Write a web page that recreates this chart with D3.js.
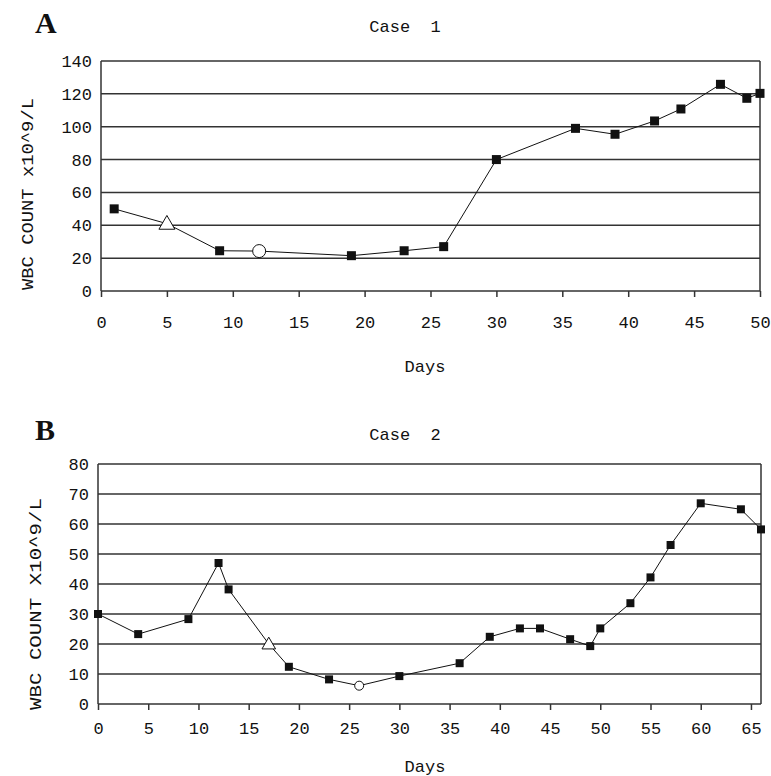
<html lang="en">
<head>
  <meta charset="UTF-8"/>
  <title>WBC count, case 1 and case 2</title>
  <script src="https://d3js.org/d3.v7.min.js"></script>
  <style>
body { margin: 0; background: #fff; }
svg { width: 771px; height: 776px; display: block; }
text { font-family: 'Liberation Mono', 'DejaVu Sans Mono', monospace; fill: #111; }
text.panel { font-family: 'Liberation Serif', serif; font-weight: bold; font-size: 30px; }
text.title { font-size: 17px; }
.tick text { font-size: 17px; }
text.label { font-size: 17px; }
.grid line { stroke: #333; stroke-width: 1.5; }
.series { fill: none; stroke: #111; stroke-width: 1; }
  </style>
</head>
<body>
  <svg></svg>
  <script>
// Case 1
const daysA = [1, 5, 9, 12, 19, 23, 26, 30, 36, 39, 42, 44, 47, 49, 50];
const wbcA = [50, 41, 24.5, 24.3, 21.5, 24.5, 27, 80, 99, 95.4, 103.5, 110.8, 125.8, 117.3, 120.3];
const markA = ['sq', 'tri', 'sq', 'circ', 'sq', 'sq', 'sq', 'sq', 'sq', 'sq', 'sq', 'sq', 'sq', 'sq', 'sq'];
const xTicksA = [0, 5, 10, 15, 20, 25, 30, 35, 40, 45, 50];
const yTicksA = [0, 20, 40, 60, 80, 100, 120, 140];

// Case 2
const daysB = [0, 4, 9, 12, 13, 17, 19, 23, 26, 30, 36, 39, 42, 44, 47, 49, 50, 53, 55, 57, 60, 64, 66];
const wbcB = [30, 23.3, 28.3, 47, 38.2, 20, 12.4, 8.2, 6.1, 9.3, 13.6, 22.4, 25.2, 25.2, 21.6, 19.3, 25.2, 33.6, 42.2, 53, 66.9, 64.9, 58.2];
const markB = ['sq', 'sq', 'sq', 'sq', 'sq', 'tri', 'sq', 'sq', 'circ', 'sq', 'sq', 'sq', 'sq', 'sq', 'sq', 'sq', 'sq', 'sq', 'sq', 'sq', 'sq', 'sq', 'sq'];
const xTicksB = [0, 5, 10, 15, 20, 25, 30, 35, 40, 45, 50, 55, 60, 65];
const yTicksB = [0, 10, 20, 30, 40, 50, 60, 70, 80];

const svg = d3.select('svg');

function panel(o) {
  const x = d3.scaleLinear().domain(o.xDomain).range([o.left, o.right]);
  const y = d3.scaleLinear().domain(o.yDomain).range([o.bottom, o.top]);
  const g = svg.append('g');

  // horizontal grid lines
  g.append('g').attr('class', 'grid')
    .selectAll('line').data(o.yTicks).join('line')
    .attr('x1', o.left).attr('x2', o.right)
    .attr('y1', d => y(d)).attr('y2', d => y(d));

  // left and right edges
  g.append('g').attr('class', 'grid')
    .selectAll('line').data([o.left, o.right]).join('line')
    .attr('x1', d => d).attr('x2', d => d)
    .attr('y1', o.top).attr('y2', o.bottom);

  // x axis
  const xa = g.append('g')
    .attr('transform', `translate(0, ${o.bottom})`)
    .call(d3.axisBottom(x).tickValues(o.xTicks).tickSize(6).tickPadding(o.xPad).tickSizeOuter(0));
  xa.select('.domain').remove();
  xa.selectAll('.tick line').attr('stroke', '#333').attr('stroke-width', 1.5);

  // y axis labels
  const ya = g.append('g')
    .attr('transform', `translate(${o.left}, 0)`)
    .call(d3.axisLeft(y).tickValues(o.yTicks).tickSize(0).tickPadding(9));
  ya.select('.domain').remove();

  const line = d3.line().x(d => x(d[0])).y(d => y(d[1]));
  const pts = o.days.map((d, i) => [d, o.wbc[i], o.marks[i]]);
  g.append('path').attr('class', 'series').attr('d', line(pts));

  const s = o.sq;
  g.selectAll('rect.m').data(pts.filter(p => p[2] === 'sq')).join('rect')
    .attr('x', d => x(d[0]) - s / 2).attr('y', d => y(d[1]) - s / 2)
    .attr('width', s).attr('height', s).attr('fill', '#111');
  g.selectAll('circle.m').data(pts.filter(p => p[2] === 'circ')).join('circle')
    .attr('cx', d => x(d[0])).attr('cy', d => y(d[1])).attr('r', o.cr)
    .attr('fill', '#fff').attr('stroke', '#111').attr('stroke-width', 1);
  const tri = d3.symbol().type(d3.symbolTriangle).size(o.tri);
  g.selectAll('path.tri').data(pts.filter(p => p[2] === 'tri')).join('path')
    .attr('transform', d => `translate(${x(d[0])}, ${y(d[1]) + 1})`)
    .attr('d', tri).attr('fill', '#fff').attr('stroke', '#111').attr('stroke-width', 1);

  svg.append('text').attr('class', 'panel').attr('x', o.letterX).attr('y', o.letterY).text(o.letter);
  svg.append('text').attr('class', 'title').attr('x', 405).attr('y', o.titleY)
    .attr('text-anchor', 'middle').attr('xml:space', 'preserve').text(o.title);
  svg.append('text').attr('class', 'label').attr('x', 425).attr('y', o.daysY)
    .attr('text-anchor', 'middle').text('Days');
  svg.append('text').attr('class', 'label')
    .attr('transform', `translate(${o.ylX}, ${o.ylY}) rotate(-90)`)
    .attr('text-anchor', 'middle')
    .attr('textLength', o.ylLen).attr('lengthAdjust', 'spacingAndGlyphs')
    .text(o.ylabel);
}

panel({
  days: daysA, wbc: wbcA, marks: markA, xTicks: xTicksA, yTicks: yTicksA,
  xDomain: [0, 50], yDomain: [0, 140],
  left: 101, right: 760, top: 61, bottom: 291, xPad: 19,
  sq: 9, cr: 6.5, tri: 110,
  letter: 'A', letterX: 35, letterY: 33, title: 'Case  1', titleY: 32,
  daysY: 372, ylabel: 'WBC COUNT x10^9/L', ylX: 33, ylY: 194, ylLen: 192
});

panel({
  days: daysB, wbc: wbcB, marks: markB, xTicks: xTicksB, yTicks: yTicksB,
  xDomain: [0, 66], yDomain: [0, 80],
  left: 98, right: 761, top: 464, bottom: 704, xPad: 12,
  sq: 8, cr: 4.5, tri: 80,
  letter: 'B', letterX: 35, letterY: 440, title: 'Case  2', titleY: 440,
  daysY: 772, ylabel: 'WBC COUNT X10^9/L', ylX: 41, ylY: 604, ylLen: 212
});
  </script>
</body>
</html>
